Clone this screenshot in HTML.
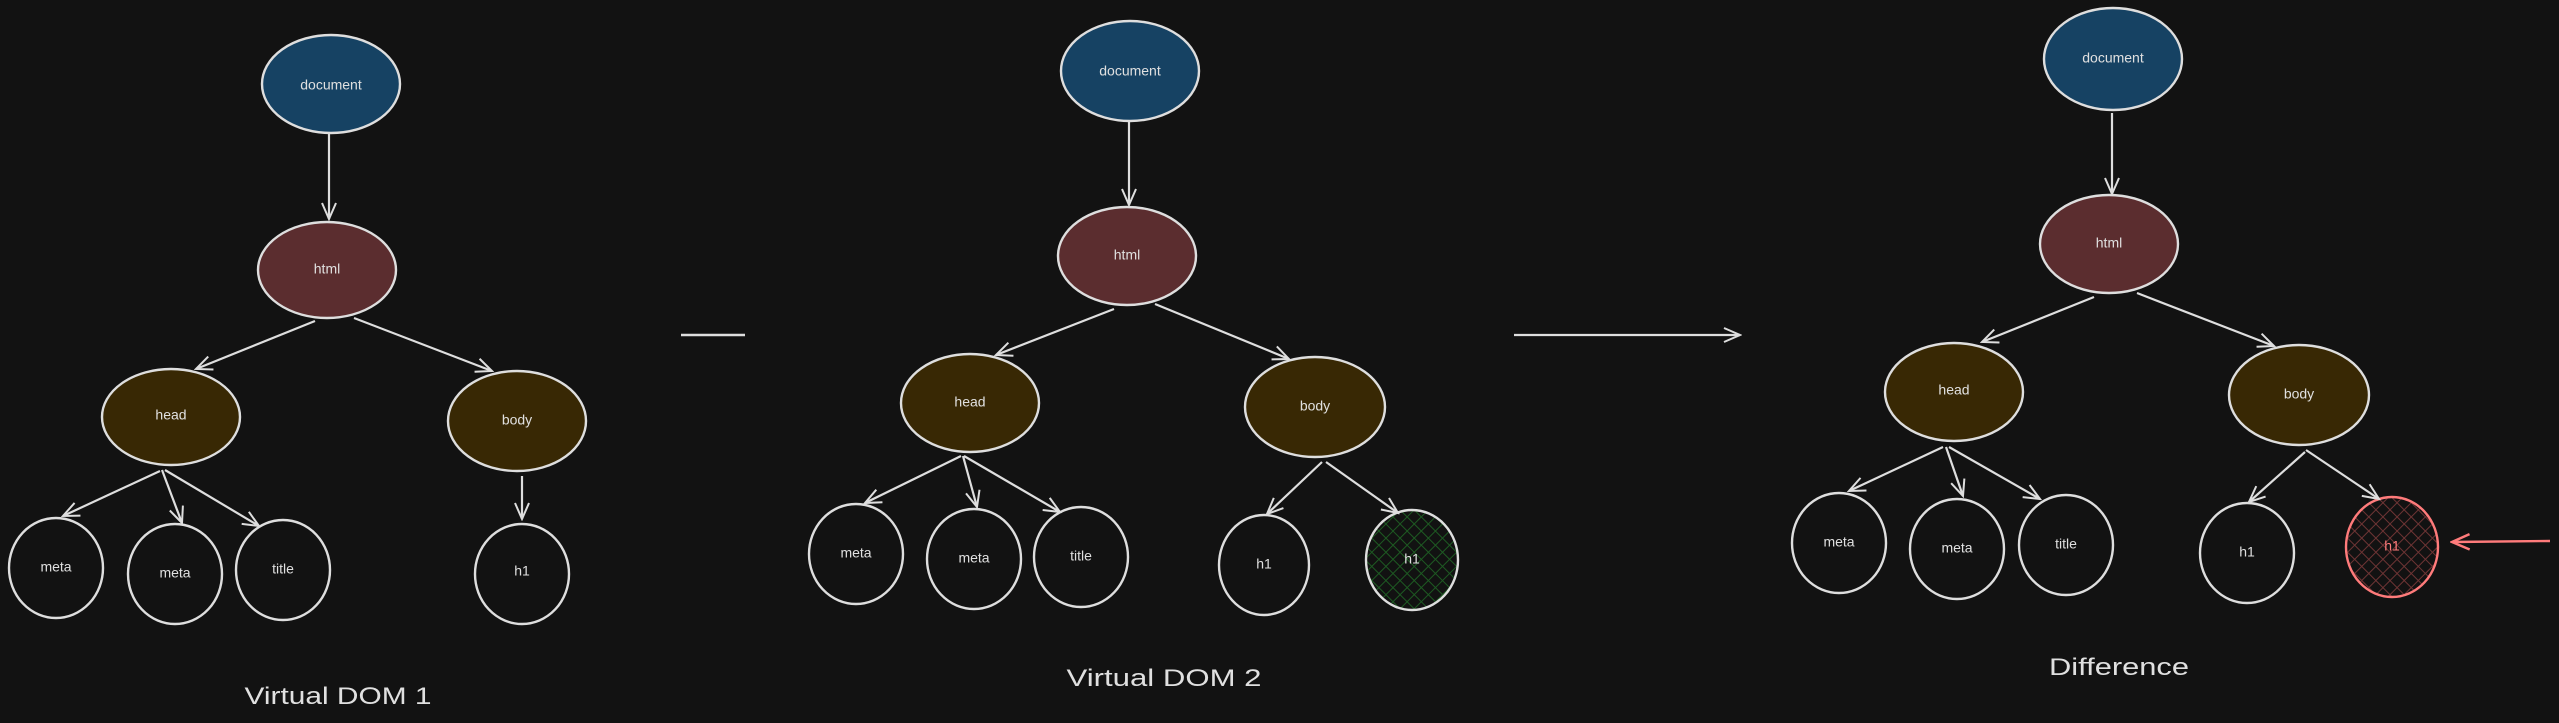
<!DOCTYPE html>
<html><head><meta charset="utf-8"><style>
html,body{margin:0;padding:0;background:#121212;}
svg{display:block}
text{font-family:"Liberation Sans",sans-serif;fill:#e0e0e0;}
</style></head><body>
<svg width="2559" height="723" viewBox="0 0 2559 723" xmlns="http://www.w3.org/2000/svg">
<defs>
<marker id="a" viewBox="0 0 20 20" refX="18" refY="10" markerWidth="20" markerHeight="20" markerUnits="userSpaceOnUse" orient="auto">
<path d="M2,3 L18,10 L2,17" fill="none" stroke="#dedede" stroke-width="2"/>
</marker>
<marker id="r" viewBox="0 0 20 20" refX="18" refY="10" markerWidth="22" markerHeight="22" markerUnits="userSpaceOnUse" orient="auto">
<path d="M2,3 L18,10 L2,17" fill="none" stroke="#ff7b7b" stroke-width="2.2"/>
</marker>
<pattern id="g" width="10" height="10" patternUnits="userSpaceOnUse" patternTransform="rotate(45)">
<rect width="10" height="10" fill="#121212"/>
<path d="M0,0 V10 M0,0 H10" stroke="#1d5a22" stroke-width="2"/>
</pattern>
<pattern id="rd" width="10" height="10" patternUnits="userSpaceOnUse" patternTransform="rotate(45)">
<rect width="10" height="10" fill="#121212"/>
<path d="M0,0 V10 M0,0 H10" stroke="#6e3434" stroke-width="2"/>
</pattern>
</defs>
<g stroke="#dedede" stroke-width="2.4">
<!-- Tree 1 -->
<ellipse cx="331" cy="84" rx="69" ry="49" fill="#164263"/>
<ellipse cx="327" cy="270" rx="69" ry="48" fill="#5b2d2f"/>
<ellipse cx="171" cy="417" rx="69" ry="48" fill="#382804"/>
<ellipse cx="517" cy="421" rx="69" ry="50" fill="#382804"/>
<ellipse cx="56" cy="568" rx="47" ry="50" fill="none"/>
<ellipse cx="175" cy="574" rx="47" ry="50" fill="none"/>
<ellipse cx="283" cy="570" rx="47" ry="50" fill="none"/>
<ellipse cx="522" cy="574" rx="47" ry="50" fill="none"/>
<!-- Tree 2 -->
<ellipse cx="1130" cy="71" rx="69" ry="50" fill="#164263"/>
<ellipse cx="1127" cy="256" rx="69" ry="49" fill="#5b2d2f"/>
<ellipse cx="970" cy="403" rx="69" ry="49" fill="#382804"/>
<ellipse cx="1315" cy="407" rx="70" ry="50" fill="#382804"/>
<ellipse cx="856" cy="554" rx="47" ry="50" fill="none"/>
<ellipse cx="974" cy="559" rx="47" ry="50" fill="none"/>
<ellipse cx="1081" cy="557" rx="47" ry="50" fill="none"/>
<ellipse cx="1264" cy="565" rx="45" ry="50" fill="none"/>
<ellipse cx="1412" cy="560" rx="46" ry="50" fill="url(#g)"/>
<!-- Tree 3 -->
<ellipse cx="2113" cy="59" rx="69" ry="51" fill="#164263"/>
<ellipse cx="2109" cy="244" rx="69" ry="49" fill="#5b2d2f"/>
<ellipse cx="1954" cy="392" rx="69" ry="49" fill="#382804"/>
<ellipse cx="2299" cy="395" rx="70" ry="50" fill="#382804"/>
<ellipse cx="1839" cy="543" rx="47" ry="50" fill="none"/>
<ellipse cx="1957" cy="549" rx="47" ry="50" fill="none"/>
<ellipse cx="2066" cy="545" rx="47" ry="50" fill="none"/>
<ellipse cx="2247" cy="553" rx="47" ry="50" fill="none"/>
<ellipse cx="2392" cy="547" rx="46" ry="50" fill="url(#rd)" stroke="#ff7b7b"/>
</g>
<g stroke="#dedede" stroke-width="2.2" fill="none" marker-end="url(#a)">
<line x1="329" y1="134" x2="329" y2="219"/>
<line x1="315" y1="321" x2="196" y2="369"/>
<line x1="354" y1="318" x2="492" y2="371"/>
<line x1="160" y1="471" x2="63" y2="516"/>
<line x1="162" y1="470" x2="182" y2="523"/>
<line x1="165" y1="470" x2="259" y2="526"/>
<line x1="522" y1="476" x2="522" y2="519"/>

<line x1="1129" y1="122" x2="1129" y2="205"/>
<line x1="1114" y1="309" x2="996" y2="355"/>
<line x1="1155" y1="304" x2="1289" y2="359"/>
<line x1="961" y1="456" x2="865" y2="503"/>
<line x1="963" y1="456" x2="977" y2="507"/>
<line x1="964" y1="456" x2="1060" y2="512"/>
<line x1="1322" y1="462" x2="1267" y2="514"/>
<line x1="1326" y1="462" x2="1398" y2="513"/>
<line x1="1514" y1="335" x2="1740" y2="335"/>

<line x1="2112" y1="113" x2="2112" y2="194"/>
<line x1="2094" y1="297" x2="1982" y2="342"/>
<line x1="2137" y1="293" x2="2274" y2="346"/>
<line x1="1943" y1="447" x2="1849" y2="491"/>
<line x1="1946" y1="447" x2="1963" y2="496"/>
<line x1="1949" y1="447" x2="2040" y2="499"/>
<line x1="2305" y1="452" x2="2249" y2="502"/>
<line x1="2306" y1="450" x2="2379" y2="499"/>
</g>
<line x1="681" y1="335" x2="745" y2="335" stroke="#dedede" stroke-width="2.6"/>
<line x1="2550" y1="541" x2="2452" y2="542" stroke="#ff7b7b" stroke-width="2.4" marker-end="url(#r)"/>
<g font-size="14" text-anchor="middle" dominant-baseline="middle">
<text x="331" y="86">document</text>
<text x="327" y="270">html</text>
<text x="171" y="416">head</text>
<text x="517" y="421">body</text>
<text x="56" y="568">meta</text>
<text x="175" y="574">meta</text>
<text x="283" y="570">title</text>
<text x="522" y="572">h1</text>

<text x="1130" y="72">document</text>
<text x="1127" y="256">html</text>
<text x="970" y="403">head</text>
<text x="1315" y="407">body</text>
<text x="856" y="554">meta</text>
<text x="974" y="559">meta</text>
<text x="1081" y="557">title</text>
<text x="1264" y="565">h1</text>
<text x="1412" y="560">h1</text>

<text x="2113" y="59">document</text>
<text x="2109" y="244">html</text>
<text x="1954" y="391">head</text>
<text x="2299" y="395">body</text>
<text x="1839" y="543">meta</text>
<text x="1957" y="549">meta</text>
<text x="2066" y="545">title</text>
<text x="2247" y="553">h1</text>
<text x="2392" y="547" style="fill:#ff7b7b">h1</text>
</g>
<g font-size="24" text-anchor="middle">
<text x="338" y="704" textLength="187" lengthAdjust="spacingAndGlyphs">Virtual DOM 1</text>
<text x="1164" y="686" textLength="195" lengthAdjust="spacingAndGlyphs">Virtual DOM 2</text>
<text x="2119" y="675" textLength="140" lengthAdjust="spacingAndGlyphs">Difference</text>
</g>
</svg>
</body></html>
